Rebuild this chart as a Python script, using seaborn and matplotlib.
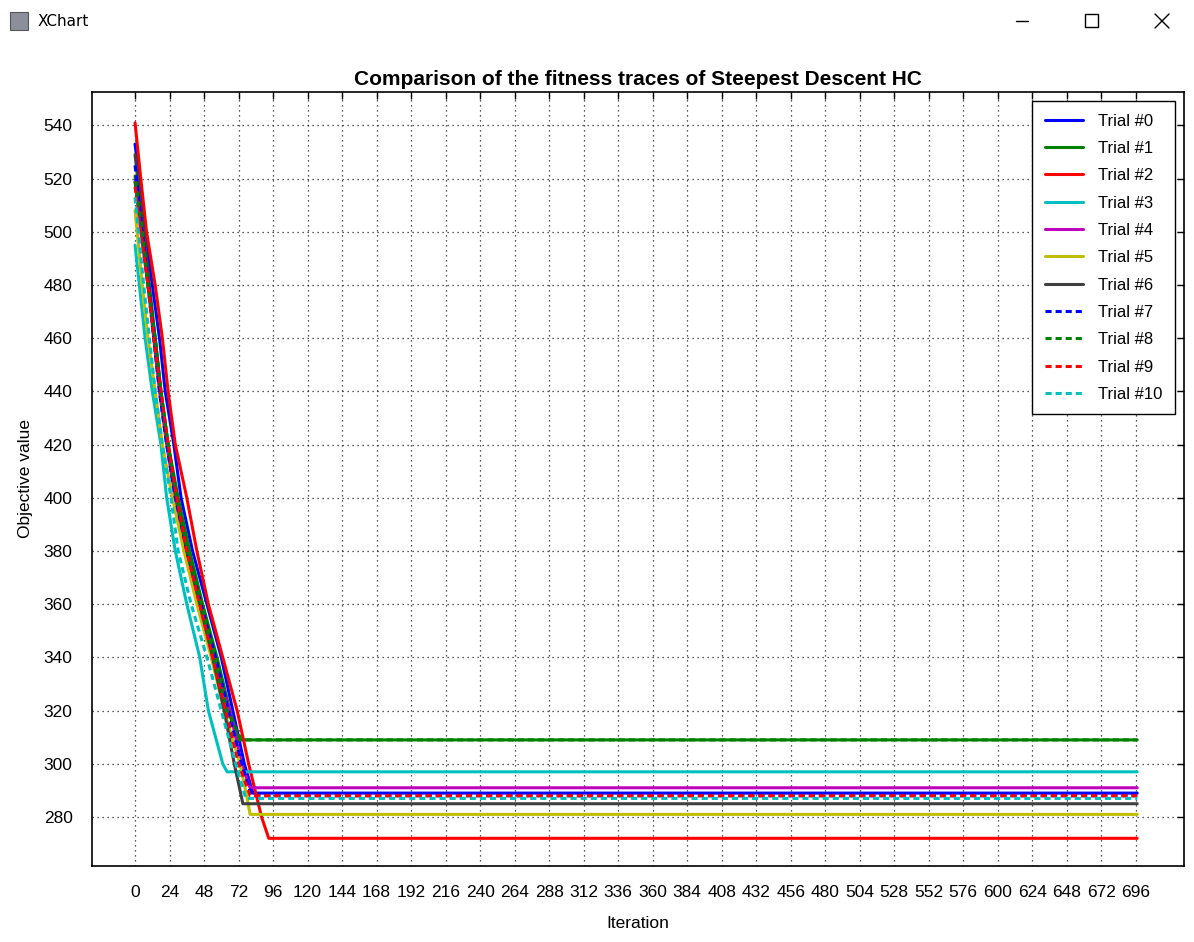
import matplotlib
matplotlib.use("Agg")
import matplotlib.pyplot as plt
from matplotlib.lines import Line2D
from matplotlib.patches import Rectangle
import seaborn as sns
import pandas as pd

# fitness traces: (iteration, objective value) knots per trial
t0_iter = [0, 3, 7, 12, 17, 21, 27, 32, 40, 50, 60, 68, 76, 82, 697]
t0_obj = [533, 520, 500, 480, 460, 440, 420, 400, 380, 360, 340, 320, 300, 289, 289]
t1_iter = [0, 5, 9, 14, 18, 23, 30, 38, 47, 57, 66, 72, 697]
t1_obj = [521, 500, 480, 460, 440, 420, 400, 380, 360, 340, 320, 309, 309]
t2_iter = [0, 4, 8, 14, 19, 23, 28, 36, 43, 51, 61, 71, 79, 88, 93, 697]
t2_obj = [541, 520, 500, 480, 460, 440, 420, 400, 380, 360, 340, 320, 300, 280, 272, 272]
t3_iter = [0, 3, 7, 12, 18, 22, 28, 36, 45, 51, 61, 64, 697]
t3_obj = [495, 480, 460, 440, 420, 400, 380, 360, 340, 320, 300, 297, 297]
t4_iter = [0, 4, 9, 13, 17, 22, 28, 35, 44, 54, 66, 74, 80, 697]
t4_obj = [519, 500, 480, 460, 440, 420, 400, 380, 360, 340, 320, 300, 291, 291]
t5_iter = [0, 5, 9, 14, 19, 26, 34, 43, 53, 62, 73, 78, 80, 697]
t5_obj = [508, 480, 460, 440, 420, 400, 380, 360, 340, 320, 300, 287, 281, 281]
t6_iter = [0, 6, 10, 14, 18, 23, 29, 36, 45, 54, 62, 69, 75, 697]
t6_obj = [529, 500, 480, 460, 440, 420, 400, 380, 360, 340, 320, 300, 285, 285]
t7_iter = [0, 5, 9, 13, 17, 22, 28, 36, 46, 56, 65, 74, 81, 697]
t7_obj = [525, 500, 480, 460, 440, 420, 400, 380, 360, 340, 320, 300, 288, 288]
t8_iter = [0, 5, 9, 14, 18, 23, 29, 37, 46, 55, 64, 74, 697]
t8_obj = [519, 500, 480, 460, 440, 420, 400, 380, 360, 340, 320, 309, 309]
t9_iter = [0, 4, 9, 13, 18, 23, 29, 36, 45, 54, 63, 72, 80, 697]
t9_obj = [517, 500, 480, 460, 440, 420, 400, 380, 360, 340, 320, 300, 288, 288]
t10_iter = [0, 6, 10, 14, 19, 25, 30, 39, 50, 60, 70, 77, 697]
t10_obj = [513, 480, 460, 440, 420, 400, 380, 360, 340, 320, 300, 287, 287]

trial_iters = [t0_iter, t1_iter, t2_iter, t3_iter, t4_iter, t5_iter,
               t6_iter, t7_iter, t8_iter, t9_iter, t10_iter]
trial_objs = [t0_obj, t1_obj, t2_obj, t3_obj, t4_obj, t5_obj,
              t6_obj, t7_obj, t8_obj, t9_obj, t10_obj]
trial_names = ["Trial #%d" % i for i in range(11)]

colors = ["#0000ff", "#008000", "#ff0000", "#00bfbf", "#bf00bf", "#bfbf00",
          "#404040", "#0000ff", "#008000", "#ff0000", "#00bfbf"]
dots = (2, 1.3)
dashes = [""] * 7 + [dots] * 4

rows = []
for name, xs, ys in zip(trial_names, trial_iters, trial_objs):
    for x, y in zip(xs, ys):
        rows.append((name, x, y))
df = pd.DataFrame(rows, columns=["Trial", "Iteration", "Objective value"])

sns.set_style("white")
plt.rcParams['font.family'] = ['Liberation Sans', 'DejaVu Sans']
for k in ['text.color', 'axes.labelcolor', 'xtick.color', 'ytick.color']:
    plt.rcParams[k] = 'black'

fig = plt.figure(figsize=(11.94, 9.42), dpi=100)
ax = fig.add_axes([0.0771, 0.0807, 0.9145, 0.8217])

sns.lineplot(data=df, x="Iteration", y="Objective value", hue="Trial",
             style="Trial", hue_order=trial_names, style_order=trial_names,
             palette=dict(zip(trial_names, colors)),
             dashes=dict(zip(trial_names, dashes)),
             estimator=None, sort=False, linewidth=2.2, ax=ax)

ax.set_xlim(-29.9, 729.5)
ax.set_ylim(261.6, 552.6)
ax.set_xticks(range(0, 697, 24))
ax.set_yticks(range(280, 541, 20))
ax.tick_params(direction="in", length=5, width=1, color="black",
               top=True, right=True, labelsize=12.5, pad=14)
ax.grid(True, linestyle=(0, (1, 3)), color="#222222", linewidth=0.9)
for s in ax.spines.values():
    s.set_color("black")
    s.set_linewidth(1.2)

ax.set_title("Comparison of the fitness traces of Steepest Descent HC",
             fontsize=15, fontweight="bold", pad=5)
ax.set_xlabel("Iteration", fontsize=12.5, labelpad=11)
ax.set_ylabel("Objective value", fontsize=12.5, labelpad=8)

handles, labels = ax.get_legend_handles_labels()
leg = ax.legend(handles, labels, loc="upper right", fontsize=12, frameon=True,
                fancybox=False, framealpha=1, edgecolor="black",
                handlelength=2.3, labelspacing=0.74, borderaxespad=0.55,
                borderpad=0.75, handletextpad=0.9)
leg.get_frame().set_linewidth(1.0)
for ln in leg.get_lines():
    ln.set_linewidth(2.2)

# window chrome of the original screenshot
fig.text(38 / 1194, 1 - 21 / 942, "XChart", fontsize=11, va="center",
         family=["DejaVu Sans"], color="black")
fig.add_artist(Rectangle((10 / 1194, 1 - 30 / 942), 18 / 1194, 18 / 942,
                         transform=fig.transFigure, facecolor="#8a8f99",
                         edgecolor="#555555", linewidth=0.8))
fig.add_artist(Line2D([1016 / 1194, 1028 / 1194], [1 - 21 / 942] * 2,
                      transform=fig.transFigure, color="black", lw=1))
fig.add_artist(Rectangle((1085 / 1194, 1 - 27 / 942), 13 / 1194, 13 / 942,
                         transform=fig.transFigure, fill=False,
                         edgecolor="black", linewidth=1))
fig.add_artist(Line2D([1155 / 1194, 1169 / 1194], [1 - 14 / 942, 1 - 28 / 942],
                      transform=fig.transFigure, color="black", lw=1))
fig.add_artist(Line2D([1155 / 1194, 1169 / 1194], [1 - 28 / 942, 1 - 14 / 942],
                      transform=fig.transFigure, color="black", lw=1))

fig.savefig("out.png", dpi=100)
